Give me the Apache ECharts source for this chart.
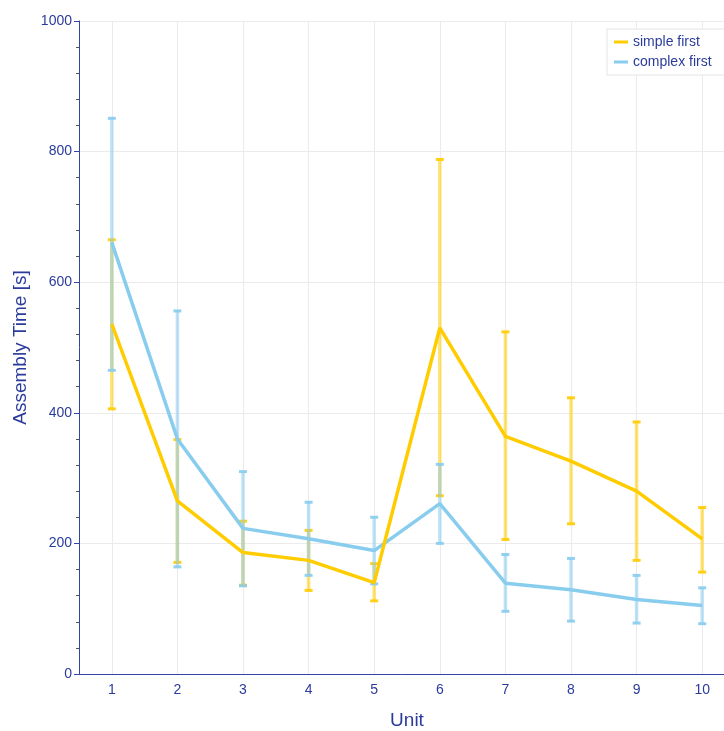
<!DOCTYPE html>
<html>
<head>
<meta charset="utf-8">
<script src="https://cdn.jsdelivr.net/npm/echarts@6/dist/echarts.min.js"></script>
<style>
  html, body { margin: 0; padding: 0; background: #fff; overflow: hidden; }
  #main { width: 724px; height: 731px; }
</style>
</head>
<body>
<div id="main"></div>
<script>
// 数据
var units = ['1', '2', '3', '4', '5', '6', '7', '8', '9', '10'];

var simpleMean = [536, 265, 186, 174, 140, 530, 364, 326, 280, 207];
var simpleLow  = [406, 171, 136, 128, 112, 273, 206, 230, 174, 156];
var simpleHigh = [665, 359, 234, 220, 169, 788, 524, 423, 386, 255];

var complexMean = [661, 360, 223, 207, 189, 261, 139, 129, 114, 105];
var complexLow  = [465, 164, 135, 151, 138, 200, 96, 81, 78, 77];
var complexHigh = [851, 556, 310, 263, 240, 321, 183, 177, 151, 132];

var yellow = '#ffcc00';
var blue = '#88ccee';
var axisColor = '#3444a4';
var textColor = '#2b3b9c';

function errData(low, high) {
   return low.map(function (v, i) { return [i, v, high[i]]; });
}

// 误差线
function errorBarRenderer(color) {
   return function (params, api) {
      var lo = api.coord([api.value(0), api.value(1)]);
      var hi = api.coord([api.value(0), api.value(2)]);
      var w = 4;
      return {
         type: 'group',
         children: [{
            type: 'line',
            shape: { x1: lo[0], y1: lo[1], x2: hi[0], y2: hi[1] },
            style: { stroke: color, lineWidth: 3.5, opacity: 0.55 }
         }, {
            type: 'line',
            shape: { x1: lo[0] - w, y1: lo[1], x2: lo[0] + w, y2: lo[1] },
            style: { stroke: color, lineWidth: 3, opacity: 0.9 }
         }, {
            type: 'line',
            shape: { x1: hi[0] - w, y1: hi[1], x2: hi[0] + w, y2: hi[1] },
            style: { stroke: color, lineWidth: 3, opacity: 0.9 }
         }]
      };
   };
}

var chart = echarts.init(document.getElementById('main'));
var option = {
   animation: false,
   textStyle: { fontFamily: 'Liberation Sans, Arial, sans-serif' },
   grid: {
      left: 79, right: -11, top: 21, bottom: 57,
      containLabel: false,
      outerBoundsMode: 'none'
   },
   legend: {
      orient: 'vertical',
      left: 607,
      top: 29,
      padding: [6, 16, 6, 7],
      itemGap: 6,
      itemWidth: 14,
      itemHeight: 3,
      icon: 'rect',
      backgroundColor: '#fff',
      borderColor: '#e4e4e4',
      borderWidth: 1,
      textStyle: { color: textColor, fontSize: 14 },
      data: ['simple first', 'complex first']
   },
   xAxis: {
      type: 'category',
      data: units,
      boundaryGap: true,
      name: 'Unit',
      nameLocation: 'middle',
      nameGap: 37,
      nameTextStyle: { color: textColor, fontSize: 19 },
      axisLine: { lineStyle: { color: axisColor, width: 1 } },
      axisTick: { alignWithLabel: true, length: 5, lineStyle: { color: axisColor } },
      axisLabel: { color: textColor, fontSize: 14, margin: 9 },
      splitLine: { show: true, alignWithLabel: true, lineStyle: { color: '#ebebeb' } }
   },
   yAxis: {
      type: 'value',
      min: 0,
      max: 1000,
      interval: 200,
      name: 'Assembly Time [s]',
      nameLocation: 'middle',
      nameGap: 45,
      nameTextStyle: { color: textColor, fontSize: 19 },
      axisLine: { show: true, lineStyle: { color: axisColor, width: 1 } },
      axisTick: { show: true, length: 5, lineStyle: { color: axisColor } },
      minorTick: { show: true, splitNumber: 5, length: 3, lineStyle: { color: '#555' } },
      axisLabel: {
         color: textColor, fontSize: 14, margin: 7,
         formatter: function (v) { return String(v); }
      },
      splitLine: { lineStyle: { color: '#ebebeb' } }
   },
   series: [{
      type: 'custom',
      renderItem: errorBarRenderer(yellow),
      data: errData(simpleLow, simpleHigh),
      encode: { x: 0, y: [1, 2] },
      z: 1,
      silent: true
   }, {
      type: 'custom',
      renderItem: errorBarRenderer(blue),
      data: errData(complexLow, complexHigh),
      encode: { x: 0, y: [1, 2] },
      z: 1,
      silent: true
   }, {
      name: 'complex first',
      type: 'line',
      data: complexMean,
      showSymbol: false,
      color: blue,
      lineStyle: { width: 3.5, color: blue },
      z: 3
   }, {
      name: 'simple first',
      type: 'line',
      data: simpleMean,
      showSymbol: false,
      color: yellow,
      lineStyle: { width: 3.5, color: yellow },
      z: 4
   }]
};
chart.setOption(option);
</script>
</body>
</html>
